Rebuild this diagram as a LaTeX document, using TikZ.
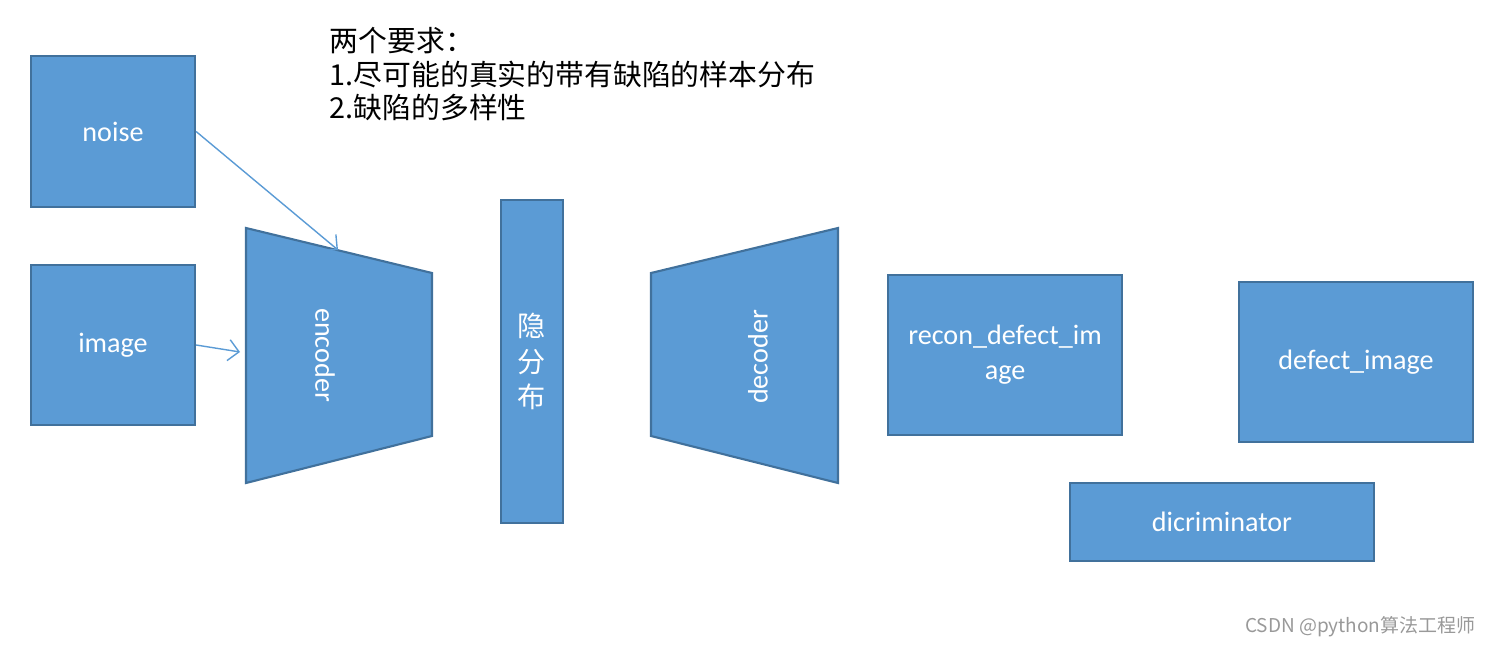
\documentclass[tikz,border=0pt]{standalone}
\usepackage{fontspec}
\setmainfont{Carlito}
\newfontfamily\cjk{Noto Sans CJK SC}
\usetikzlibrary{arrows.meta}
\definecolor{boxblue}{HTML}{5B9BD5}
\definecolor{boxline}{HTML}{41719C}
\tikzset{
  block/.style={draw=boxline,fill=boxblue,line width=0.6pt,text=white,align=center,inner sep=0pt,font=\fontsize{8}{10}\selectfont},
  label/.style={text=white,inner sep=0pt,font=\fontsize{8}{10}\selectfont},
  link/.style={draw=boxblue,line width=0.4pt,-{Straight Barb[length=3pt,width=6pt]}}
}
\begin{document}
\begin{tikzpicture}[x=0.01cm,y=-0.01cm]
  \useasboundingbox (0,0) rectangle (1492,646);
  % requirements
  \node[anchor=north west,align=left,inner sep=0pt,font=\cjk\fontsize{8.2}{9.4}\selectfont] (req) at (329,27)
    {两个要求：\\1.尽可能的真实的带有缺陷的样本分布\\2.缺陷的多样性};
  % inputs
  \node[block,minimum width=1.64cm,minimum height=1.51cm] (noise) at (113,131.5) {noise};
  \node[block,minimum width=1.64cm,minimum height=1.60cm] (image) at (113,345) {image};
  % encoder / decoder trapezoids
  \draw[block] (246,228) -- (432,273) -- (432,436) -- (246,483) -- cycle;
  \node[label,rotate=-90] (encoder) at (325,355) {encoder};
  \draw[block] (651,273) -- (838,228) -- (838,483) -- (651,436) -- cycle;
  \node[label,rotate=90] (decoder) at (758,357) {decoder};
  % latent
  \node[block,minimum width=0.62cm,minimum height=3.23cm,font=\cjk\fontsize{8}{10}\selectfont] (latent) at (532,361.5) {隐\\分\\布};
  % outputs
  \node[block,minimum width=2.34cm,minimum height=1.60cm] (recon) at (1005,355) {recon\_defect\_im\\age};
  \node[block,minimum width=2.34cm,minimum height=1.60cm] (defect) at (1356,362) {defect\_image};
  \node[block,minimum width=3.04cm,minimum height=0.78cm] (disc) at (1222,522) {dicriminator};
  % arrows into encoder
  \coordinate (encin1) at (338,250);
  \coordinate (encin2) at (240,352);
  \draw[link] (noise.east) -- (encin1);
  \draw[link] (image.east) -- (encin2);
  \node[anchor=east,text=gray!80,inner sep=0pt,font=\cjk\fontsize{5.4}{6}\selectfont] (mark) at (1476,627) {CSDN @python算法工程师};
\end{tikzpicture}
\end{document}
